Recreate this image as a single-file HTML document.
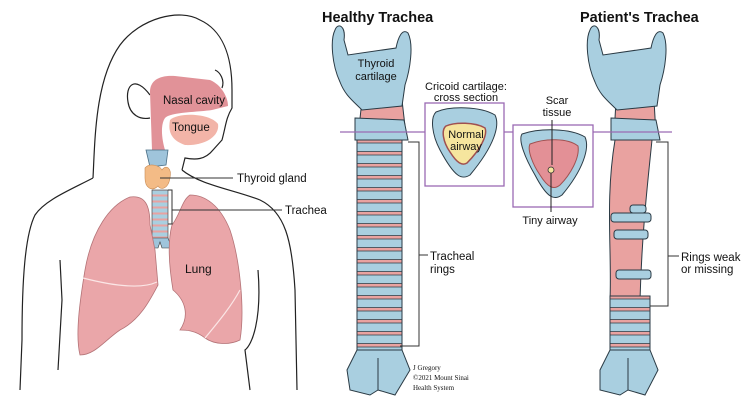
<!DOCTYPE html>
<html><head><style>
html,body{margin:0;padding:0;background:#fff;}
svg{display:block;}
text{font-family:"Liberation Sans",Arial,sans-serif;fill:#111;}
</style></head><body>
<svg width="750" height="400" viewBox="0 0 750 400" xmlns="http://www.w3.org/2000/svg">
<defs>
<pattern id="rings" x="0" y="142" width="750" height="12" patternUnits="userSpaceOnUse">
<rect width="750" height="12" fill="#e9a2a0"/>
<rect y="1" width="750" height="8.5" fill="#a9cfe0"/>
<line x1="0" y1="1" x2="750" y2="1" stroke="#2a3a44" stroke-width="0.8"/>
<line x1="0" y1="9.5" x2="750" y2="9.5" stroke="#2a3a44" stroke-width="0.8"/>
</pattern>
<pattern id="rings2" x="0" y="190" width="750" height="6" patternUnits="userSpaceOnUse">
<rect width="750" height="6" fill="#e9a2a0"/>
<rect y="0.5" width="750" height="4" fill="#a9cfe0"/>
</pattern>
</defs>
<!-- woman outline -->
<g fill="none" stroke="#222" stroke-width="1.2">
<path d="M93,178 C95,140 95,80 120,45 C140,18 180,8 200,20 C222,30 232,55 232,90 L232,108 C226,118 226,125 222,140 L213,150 C205,160 195,160 185,158 L182,170"/>
<path d="M150,95 C135,75 125,85 128,102 C130,115 140,120 150,118"/>
<path d="M93,178 C70,190 45,200 35,215 C25,235 22,280 22,340 L20,390"/>
<path d="M182,170 C200,185 235,190 260,200 C285,212 292,240 295,290 L297,390"/>
<path d="M60,260 L62,300 L58,370"/>
<path d="M258,270 C262,320 252,345 245,350 L250,390"/>
<path d="M215,70 C220,72 225,80 222,88"/>
</g>
<path d="M150,92 C150,80 160,75 175,76 L210,80 C222,85 228,98 228,106 L212,110 C200,112 170,112 165,118 C160,125 162,140 165,150 L152,150 Z" fill="#e19298"/>
<path d="M170,120 C178,112 210,113 218,124 C220,136 205,146 185,145 C170,140 168,130 170,120 Z" fill="#f2b4a8"/>
<text x="163" y="104" font-size="11.5">Nasal cavity</text>
<text x="172" y="131" font-size="11.5">Tongue</text>
<path d="M146,150 L168,150 L166,165 L150,167 Z" fill="#9fc4db" stroke="#4a6e85" stroke-width="0.8"/>
<path d="M145,168 C150,162 160,166 162,170 C166,164 172,168 170,178 C168,190 160,190 158,186 C152,192 145,188 145,178 Z" fill="#f3bb86" stroke="#c98c55" stroke-width="0.6"/>
<rect x="152" y="190" width="16" height="50" fill="url(#rings2)" stroke="#333" stroke-width="0.6"/>
<path d="M152,238 L146,248 L158,248 L160,242 L162,248 L172,248 L168,238 Z" fill="#9fc4db" stroke="#333" stroke-width="0.6"/>
<path d="M130,197 C145,195 150,205 150,225 L155,250 L158,285 C150,300 140,320 120,330 C105,340 95,355 80,355 C75,335 80,300 85,270 C92,230 110,205 130,197 Z" fill="#eaa6a9" stroke="#b47377" stroke-width="0.8"/>
<path d="M190,195 C205,195 220,205 230,230 C240,260 245,310 240,340 C230,345 215,345 205,338 C195,330 185,330 180,330 C190,315 185,300 173,290 C168,260 168,240 172,225 C180,215 182,200 190,195 Z" fill="#eaa6a9" stroke="#b47377" stroke-width="0.8"/>
<path d="M83,278 C110,285 140,290 157,282 M205,338 C220,320 232,305 240,290" stroke="#fbe6e6" fill="none" stroke-width="1.2"/>
<text x="185" y="273" font-size="12">Lung</text>
<line x1="160" y1="178" x2="233" y2="178" stroke="#333"/>
<text x="237" y="182" font-size="11.5">Thyroid gland</text>
<path d="M168,190 L172,190 L172,224 L168,224 M172,210 L282,210" stroke="#333" fill="none"/>
<text x="285" y="214" font-size="11.5">Trachea</text>

<text x="322" y="22" font-size="14.5" font-weight="bold">Healthy Trachea</text>
<text x="580" y="22" font-size="14.5" font-weight="bold">Patient's Trachea</text>

<!-- healthy trachea -->
<rect x="357" y="140" width="45" height="210" fill="url(#rings)" stroke="#2a3a44" stroke-width="1"/>
<path d="M362,100 L402,100 L406,135 L358,137 Z" fill="#e9a2a0" stroke="#2a3a44"/>
<path d="M335,30 C338,22 346,26 344,40 L348,55 L396,48 C398,38 402,28 408,33 C414,45 410,70 405,85 L402,106 L362,110 C352,100 345,95 340,82 C332,65 330,40 335,30 Z" fill="#a9cfe0" stroke="#2a3a44"/>
<path d="M355,118 L404,120 L408,140 L355,140 Z" fill="#a9cfe0" stroke="#2a3a44"/>
<path d="M357,350 L402,350 L410,370 L395,395 L378,390 L370,395 L350,390 L347,370 Z" fill="#a9cfe0" stroke="#2a3a44"/>
<path d="M378,358 L378,390" stroke="#2a3a44"/>
<text x="376" y="67" font-size="11" text-anchor="middle">Thyroid</text>
<text x="376" y="80" font-size="11" text-anchor="middle">cartilage</text>
<!-- patient trachea -->
<path d="M615,140 L652,140 C648,180 642,230 640,300 L610,300 C612,250 605,200 615,140 Z" fill="#e9a2a0" stroke="#2a3a44"/>
<rect x="610" y="296" width="40" height="56" fill="url(#rings)" stroke="#2a3a44"/>
<rect x="611" y="213" width="40" height="9" rx="3" fill="#a9cfe0" stroke="#2a3a44"/>
<rect x="614" y="230" width="34" height="9" rx="3" fill="#a9cfe0" stroke="#2a3a44"/>
<rect x="616" y="270" width="35" height="9" rx="3" fill="#a9cfe0" stroke="#2a3a44"/>
<rect x="630" y="205" width="16" height="8" rx="3" fill="#a9cfe0" stroke="#2a3a44"/>
<path d="M616,100 L654,100 L656,135 L614,137 Z" fill="#e9a2a0" stroke="#2a3a44"/>
<path d="M590,30 C593,22 601,26 599,40 L603,55 L651,48 C653,38 657,28 663,33 C669,45 665,70 660,85 L657,106 L617,110 C607,100 600,95 595,82 C587,65 585,40 590,30 Z" fill="#a9cfe0" stroke="#2a3a44"/>
<path d="M611,118 L656,120 L660,140 L611,140 Z" fill="#a9cfe0" stroke="#2a3a44"/>
<path d="M610,350 L650,350 L658,370 L645,395 L628,390 L620,395 L600,390 L600,370 Z" fill="#a9cfe0" stroke="#2a3a44"/>
<path d="M628,358 L628,390" stroke="#2a3a44"/>

<line x1="340" y1="132" x2="672" y2="132" stroke="#9a6ab3" stroke-width="1.3"/>
<rect x="425" y="103" width="79" height="83" fill="#fff" stroke="#9a6ab3" stroke-width="1.3"/>
<path d="M436,112 C450,106 480,106 495,115 C500,125 495,145 470,175 C462,180 455,178 440,150 C432,135 430,118 436,112 Z" fill="#a9cfe0" stroke="#2a3a44"/>
<path d="M446,126 C455,122 475,122 485,128 C488,135 480,150 467,163 C462,166 457,163 450,152 C443,142 441,130 446,126 Z" fill="#f6e59e" stroke="#a05050" stroke-width="1.5"/>
<text x="466" y="138" font-size="11" text-anchor="middle">Normal</text>
<text x="466" y="150" font-size="11" text-anchor="middle">airway</text>
<text x="466" y="90" font-size="11" text-anchor="middle">Cricoid cartilage:</text>
<text x="466" y="101" font-size="11" text-anchor="middle">cross section</text>
<rect x="513" y="125" width="80" height="82" fill="#fff" stroke="#9a6ab3" stroke-width="1.3"/>
<path d="M522,134 C540,128 570,128 585,137 C590,148 583,170 562,195 C555,200 548,200 535,175 C525,158 518,140 522,134 Z" fill="#a9cfe0" stroke="#2a3a44"/>
<path d="M530,144 C545,138 568,138 578,146 C580,158 570,175 560,185 C554,190 548,188 540,175 C533,165 527,150 530,144 Z" fill="#e39096" stroke="#a05050"/>
<circle cx="551" cy="170" r="3" fill="#f6e59e" stroke="#333" stroke-width="0.8"/>
<line x1="552" y1="120" x2="552" y2="165" stroke="#222"/>
<line x1="551" y1="173" x2="551" y2="212" stroke="#222"/>
<text x="557" y="104" font-size="11" text-anchor="middle">Scar</text>
<text x="557" y="116" font-size="11" text-anchor="middle">tissue</text>
<text x="550" y="224" font-size="11" text-anchor="middle">Tiny airway</text>
<path d="M408,142 L419,142 L419,346 L400,346 M419,255 L428,255" fill="none" stroke="#333"/>
<text x="430" y="260" font-size="11.5">Tracheal</text>
<text x="430" y="273" font-size="11.5">rings</text>
<path d="M656,142 L668,142 L668,306 L650,306 M668,256 L679,256" fill="none" stroke="#333"/>
<text x="681" y="261" font-size="11.5">Rings weak</text>
<text x="681" y="273" font-size="11.5">or missing</text>
<text x="413" y="370" font-size="7" style="font-family:'Liberation Serif',serif">J Gregory</text>
<text x="413" y="380" font-size="7" style="font-family:'Liberation Serif',serif">©2021 Mount Sinai</text>
<text x="413" y="390" font-size="7" style="font-family:'Liberation Serif',serif">Health System</text>
</svg>
</body></html>
